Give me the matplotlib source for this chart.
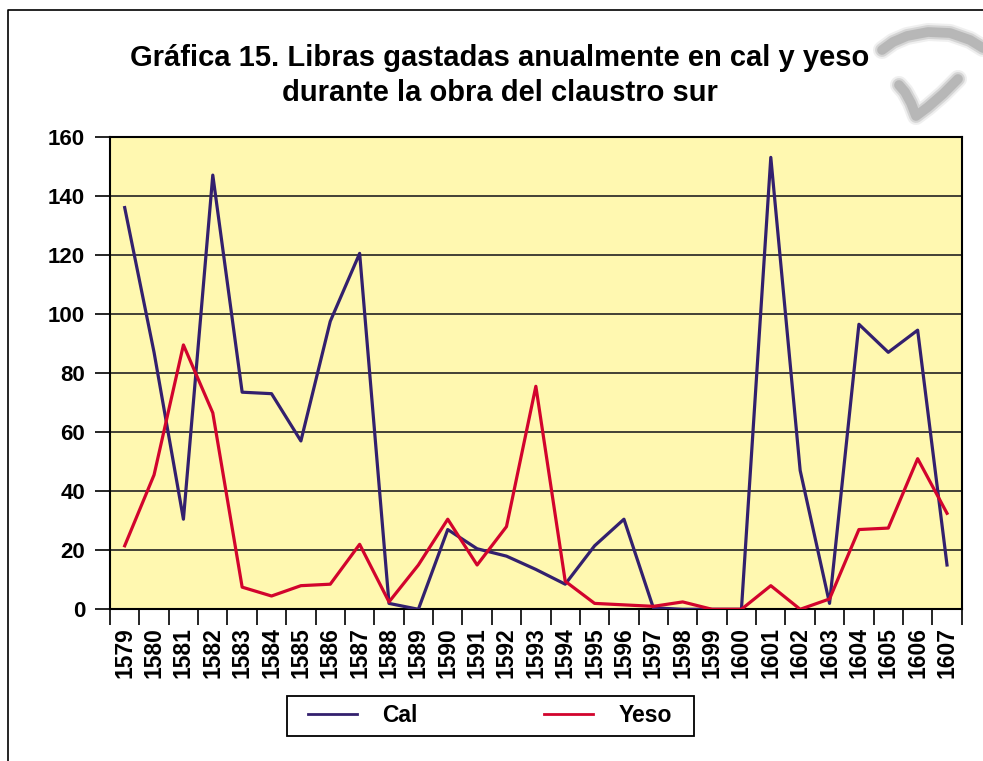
import matplotlib
matplotlib.use('Agg')
import matplotlib.pyplot as plt
from matplotlib.lines import Line2D
from matplotlib.patches import Rectangle

plt.rcParams['font.family'] = ['Liberation Sans', 'DejaVu Sans']

years = ['1579', '1580', '1581', '1582', '1583', '1584', '1585', '1586', '1587', '1588',
         '1589', '1590', '1591', '1592', '1593', '1594', '1595', '1596', '1597', '1598',
         '1599', '1600', '1601', '1602', '1603', '1604', '1605', '1606', '1607']
cal = [136, 87, 30.5, 147, 73.5, 73, 57, 97.5, 120.5, 2,
       0, 27, 20.5, 18, 13.5, 8.5, 21.5, 30.5, 0.5, 0,
       0, 0, 153, 47, 2, 96.5, 87, 94.5, 15]
yeso = [21.5, 45.5, 89.5, 66.5, 7.5, 4.5, 8, 8.5, 22, 2.5,
        15, 30.5, 15, 28, 75.5, 9.5, 2, 1.5, 1, 2.5,
        0, 0, 8, 0, 3.5, 27, 27.5, 51, 32.5]

title1 = 'Gráfica 15. Libras gastadas anualmente en cal y yeso'
title2 = 'durante la obra del claustro sur'

cal_color = '#33206E'
yeso_color = '#D2042D'

W, H = 983, 761
fig = plt.figure(figsize=(W / 100, H / 100), dpi=100)

# plot area (pixel positions)
left, right, top, bottom = 110, 961.7, 136.7, 609.3
ax = fig.add_axes([left / W, 1 - bottom / H, (right - left) / W, (bottom - top) / H])

x = range(len(years))
ax.plot(x, cal, color=cal_color, lw=2.3, zorder=3)
ax.plot(x, yeso, color=yeso_color, lw=2.3, zorder=3)

ax.set_facecolor('#FFF8B0')
ax.set_xlim(-0.5, len(years) - 0.5)
ax.set_ylim(0, 160)
ax.set_yticks(range(0, 161, 20))
ax.yaxis.grid(True, color='#222222', lw=1.2)
ax.set_axisbelow(True)

# ticks between categories, labels in the middle
ax.set_xticks([i - 0.5 for i in range(len(years) + 1)])
ax.set_xticks(list(x), minor=True)
ax.set_xticklabels(years, minor=True, rotation=90, fontweight='bold', fontsize=16.5)
ax.tick_params(axis='x', which='major', length=11.5, width=1.2, labelbottom=False)
ax.tick_params(axis='x', which='minor', length=0, pad=13)
ax.tick_params(axis='y', length=11, width=1.2, pad=7, labelsize=16)
for t in ax.get_yticklabels():
    t.set_fontweight('bold')
for s in ax.spines.values():
    s.set_color('black')
    s.set_linewidth(1.5)

fig.text(500 / W, 1 - 58 / H, title1, ha='center', va='center', fontsize=21, fontweight='bold')
fig.text(500 / W, 1 - 93 / H, title2, ha='center', va='center', fontsize=21, fontweight='bold')

handles = [Line2D([], [], color=cal_color, lw=2, label='Cal'),
           Line2D([], [], color=yeso_color, lw=2, label='Yeso')]
leg = fig.legend(handles=handles, ncol=2, loc='center',
                 bbox_to_anchor=(490 / W, 1 - 716 / H), frameon=False,
                 handlelength=2.14, handletextpad=1.13, columnspacing=5.5,
                 borderpad=0, prop={'weight': 'bold', 'size': 16.5})

# overlay in pixel coordinates for the outer frame, legend box and watermark
ov = fig.add_axes([0, 0, 1, 1], zorder=-1)
ov.set_xlim(0, W)
ov.set_ylim(H, 0)
ov.axis('off')
ov.plot([8, 8, W], [H, 10, 10], color='black', lw=1.2)
ov.add_patch(Rectangle((287, 696), 407, 40, fill=False, edgecolor='black', lw=1.3))

arc_x = [882, 893, 907, 928, 950, 970, 983]
arc_y = [50, 42, 36, 32, 33, 40, 48]
v_x = [899, 905, 911, 916, 928, 943, 958]
v_y = [85, 92, 103, 116, 107, 94, 79]
for lw, a in [(13, 0.15), (10, 0.3), (7, 0.5)]:
    ov.plot(arc_x, arc_y, color='#9a9a9a', lw=lw, alpha=a, solid_capstyle='round')
    ov.plot(v_x, v_y, color='#9a9a9a', lw=lw, alpha=a, solid_capstyle='round')

fig.savefig('out.png', dpi=100)
